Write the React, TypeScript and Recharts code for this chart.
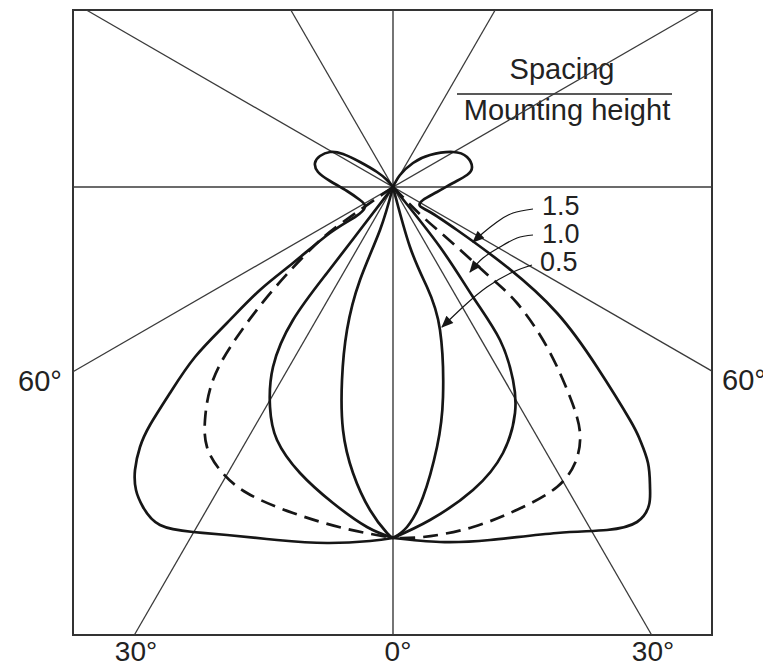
import { LineChart, Line, XAxis, YAxis, ReferenceLine, ReferenceArea } from "recharts";

// coordinates: offset from the lamp point, y grows downward (px of the original figure)
const BOX = { left: -320, right: 319, top: -177, bottom: 448 };

// spacing / mounting height = 1.5 (outer curve, with the small top lobes)
const ratio15Left = [
  { x: 0, y: 0 }, { x: -6, y: -7 }, { x: -16, y: -15 }, { x: -33, y: -25 }, { x: -50, y: -33 },
  { x: -63, y: -35 }, { x: -73, y: -31 }, { x: -78, y: -24 }, { x: -75, y: -15 }, { x: -63, y: -6 },
  { x: -46, y: 4 }, { x: -33, y: 13 }, { x: -28, y: 20 }, { x: -38, y: 30 }, { x: -63, y: 46 },
  { x: -100, y: 76 }, { x: -133, y: 103 }, { x: -166, y: 136 }, { x: -198, y: 170 }, { x: -223, y: 206 },
  { x: -243, y: 238 }, { x: -253, y: 260 }, { x: -258, y: 283 }, { x: -257, y: 303 }, { x: -250, y: 320 },
  { x: -233, y: 338 }, { x: -200, y: 345 }, { x: -166, y: 348 }, { x: -116, y: 353 }, { x: -66, y: 356 },
  { x: -23, y: 354 }, { x: 0, y: 351 },
];
const ratio15Right = [
  { x: 0, y: 351 }, { x: 47, y: 355 }, { x: 97, y: 353 }, { x: 164, y: 346 }, { x: 214, y: 343 },
  { x: 244, y: 335 }, { x: 256, y: 318 }, { x: 257, y: 300 }, { x: 255, y: 276 }, { x: 247, y: 253 },
  { x: 237, y: 233 }, { x: 204, y: 180 }, { x: 164, y: 126 }, { x: 114, y: 80 }, { x: 64, y: 43 },
  { x: 37, y: 25 }, { x: 27, y: 19 }, { x: 30, y: 13 }, { x: 44, y: 5 }, { x: 60, y: -4 },
  { x: 74, y: -12 }, { x: 79, y: -20 }, { x: 74, y: -30 }, { x: 60, y: -35 }, { x: 37, y: -32 },
  { x: 20, y: -24 }, { x: 7, y: -12 }, { x: 0, y: 0 },
];

// 1.0 (dashed)
const ratio10Left = [
  { x: 0, y: 0 }, { x: -50, y: 35 }, { x: -80, y: 60 }, { x: -120, y: 103 }, { x: -156, y: 150 },
  { x: -180, y: 193 }, { x: -188, y: 233 }, { x: -186, y: 260 }, { x: -173, y: 283 }, { x: -146, y: 306 },
  { x: -100, y: 326 }, { x: -50, y: 341 }, { x: 0, y: 351 },
];
const ratio10Right = [
  { x: 0, y: 0 }, { x: 30, y: 30 }, { x: 64, y: 60 }, { x: 97, y: 90 }, { x: 124, y: 116 },
  { x: 154, y: 160 }, { x: 177, y: 210 }, { x: 187, y: 246 }, { x: 182, y: 276 }, { x: 164, y: 300 },
  { x: 130, y: 320 }, { x: 80, y: 340 }, { x: 30, y: 350 }, { x: 0, y: 351 },
];

// unlabelled solid curve between 1.0 and 0.5
const innerLeft = [
  { x: 0, y: 0 }, { x: -33, y: 43 }, { x: -66, y: 86 }, { x: -100, y: 133 }, { x: -120, y: 180 },
  { x: -123, y: 220 }, { x: -116, y: 253 }, { x: -93, y: 286 }, { x: -60, y: 316 }, { x: -26, y: 340 },
  { x: 0, y: 351 },
];
const innerRight = [
  { x: 0, y: 0 }, { x: 47, y: 60 }, { x: 80, y: 110 }, { x: 107, y: 153 }, { x: 120, y: 193 },
  { x: 122, y: 226 }, { x: 110, y: 266 }, { x: 80, y: 303 }, { x: 37, y: 333 }, { x: 0, y: 351 },
];

// 0.5 (narrow)
const ratio05Left = [
  { x: 0, y: 0 }, { x: -13, y: 43 }, { x: -33, y: 93 }, { x: -46, y: 143 }, { x: -51, y: 193 },
  { x: -50, y: 243 }, { x: -40, y: 286 }, { x: -23, y: 323 }, { x: -6, y: 346 }, { x: 0, y: 351 },
];
const ratio05Right = [
  { x: 0, y: 0 }, { x: 17, y: 60 }, { x: 34, y: 100 }, { x: 47, y: 143 }, { x: 50, y: 210 },
  { x: 44, y: 260 }, { x: 30, y: 310 }, { x: 14, y: 340 }, { x: 0, y: 351 },
];

// leader arrows from the ratio labels
const arrow15 = [{ x: 140, y: 22 }, { x: 120, y: 26 }, { x: 104, y: 35 }, { x: 90, y: 46 }, { x: 80, y: 55 }];
const arrow10 = [{ x: 140, y: 48 }, { x: 124, y: 51 }, { x: 107, y: 60 }, { x: 90, y: 71 }, { x: 77, y: 85 }];
const arrow05 = [{ x: 139, y: 78 }, { x: 120, y: 85 }, { x: 94, y: 100 }, { x: 70, y: 120 }, { x: 49, y: 140 }];

const guideAngles = [30, 60, -30, -60];

// clip a line through the lamp point at angle a (from the downward vertical) to the frame
function guideSegment(deg: number) {
  const r = (deg * Math.PI) / 180;
  const dx = Math.sin(r);
  const dy = Math.cos(r);
  const lim = (d: number, lo: number, hi: number) =>
    Math.abs(d) < 1e-9 ? [-Infinity, Infinity] : d > 0 ? [lo / d, hi / d] : [hi / d, lo / d];
  const [ax, bx] = lim(dx, BOX.left, BOX.right);
  const [ay, by] = lim(dy, BOX.top, BOX.bottom);
  const t0 = Math.max(ax, ay);
  const t1 = Math.min(bx, by);
  return [
    { x: t0 * dx, y: t0 * dy },
    { x: t1 * dx, y: t1 * dy },
  ];
}

const ink = "#161616";
const thin = "#3a3a3a";
const font = "'Liberation Sans', Arial, Helvetica, sans-serif";

export default function App() {
  return (
    <div style={{ width: 763, height: 660, fontFamily: font }}>
      <LineChart width={763} height={660} margin={{ top: 2, right: 59, bottom: 33, left: 65 }}>
        <defs>
          <marker id="head" viewBox="0 0 12 10" refX="11" refY="5" markerWidth="13" markerHeight="10"
            markerUnits="userSpaceOnUse" orient="auto">
            <path d="M0,0 L12,5 L0,10 z" fill={ink} />
          </marker>
        </defs>
        <XAxis type="number" dataKey="x" domain={[BOX.left, BOX.right]} hide allowDataOverflow />
        <YAxis type="number" dataKey="y" domain={[BOX.top, BOX.bottom]} reversed hide allowDataOverflow />

        {guideAngles.map((a) => (
          <ReferenceLine key={a} segment={guideSegment(a)} stroke={thin} strokeWidth={1.3} ifOverflow="visible" />
        ))}
        <ReferenceLine x={0} stroke={thin} strokeWidth={1.4} />
        <ReferenceLine y={0} stroke={thin} strokeWidth={1.4} />
        <ReferenceArea x1={BOX.left} x2={BOX.right} y1={BOX.top} y2={BOX.bottom} fill="none"
          stroke="#333" strokeWidth={2} fillOpacity={0} />

        <Line data={ratio15Left} dataKey="y" type="natural" stroke={ink} strokeWidth={2.7} dot={false} activeDot={false} isAnimationActive={false} />
        <Line data={ratio15Right} dataKey="y" type="natural" stroke={ink} strokeWidth={2.7} dot={false} activeDot={false} isAnimationActive={false} />
        <Line data={ratio10Left} dataKey="y" type="natural" stroke={ink} strokeWidth={2.7} strokeDasharray="15 8" dot={false} activeDot={false} isAnimationActive={false} />
        <Line data={ratio10Right} dataKey="y" type="natural" stroke={ink} strokeWidth={2.7} strokeDasharray="15 8" dot={false} activeDot={false} isAnimationActive={false} />
        <Line data={innerLeft} dataKey="y" type="natural" stroke={ink} strokeWidth={2.7} dot={false} activeDot={false} isAnimationActive={false} />
        <Line data={innerRight} dataKey="y" type="natural" stroke={ink} strokeWidth={2.7} dot={false} activeDot={false} isAnimationActive={false} />
        <Line data={ratio05Left} dataKey="y" type="natural" stroke={ink} strokeWidth={2.7} dot={false} activeDot={false} isAnimationActive={false} />
        <Line data={ratio05Right} dataKey="y" type="natural" stroke={ink} strokeWidth={2.7} dot={false} activeDot={false} isAnimationActive={false} />

        {[arrow15, arrow10, arrow05].map((a, i) => (
          <Line key={i} data={a} dataKey="y" type="natural" stroke={ink} strokeWidth={1.2} markerEnd="url(#head)"
            dot={false} activeDot={false} isAnimationActive={false} />
        ))}

        {/* label block, masks the guide line behind it */}
        <rect x={468} y={48} width={206} height={40} fill="#fff" />
        <rect x={454} y={89} width={220} height={32} fill="#fff" />
        <text x={554} y={71} textAnchor="middle" fontSize={29} fill="#222" fontFamily={font}>Spacing</text>
        <line x1={449} x2={664} y1={86} y2={86} stroke="#222" strokeWidth={1.6} />
        <text x={559} y={112} textAnchor="middle" fontSize={29} fill="#222" fontFamily={font}>Mounting height</text>

        <text x={534} y={207} fontSize={27} fill="#222" fontFamily={font}>1.5</text>
        <text x={534} y={235} fontSize={27} fill="#222" fontFamily={font}>1.0</text>
        <text x={532} y={263} fontSize={27} fill="#222" fontFamily={font}>0.5</text>

        <text x={32} y={383} textAnchor="middle" fontSize={29} fill="#222" fontFamily={font}>60°</text>
        <text x={736} y={382} textAnchor="middle" fontSize={29} fill="#222" fontFamily={font}>60°</text>
        <text x={128} y={653} textAnchor="middle" fontSize={28} fill="#222" fontFamily={font}>30°</text>
        <text x={390} y={653} textAnchor="middle" fontSize={28} fill="#222" fontFamily={font}>0°</text>
        <text x={645} y={653} textAnchor="middle" fontSize={28} fill="#222" fontFamily={font}>30°</text>
      </LineChart>
    </div>
  );
}
